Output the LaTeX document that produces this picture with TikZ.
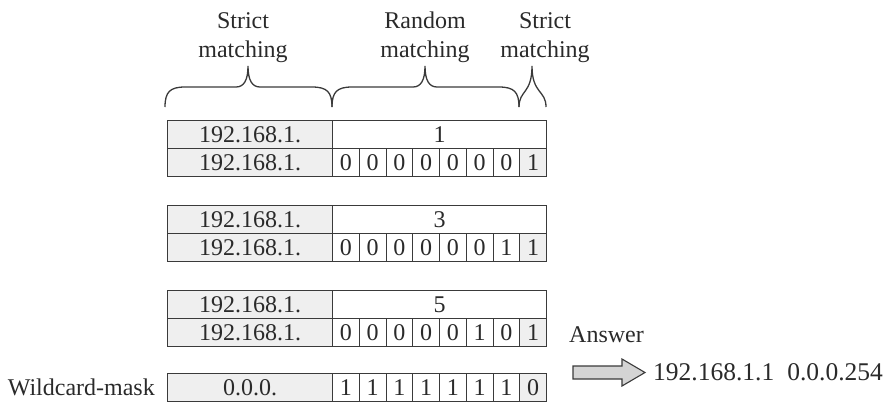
\documentclass[tikz,border=0pt]{standalone}
\usepackage{fontspec}
\setmainfont{Liberation Serif}
\definecolor{lc}{HTML}{3A3A3A}
\definecolor{tc}{HTML}{2A2A2A}
\definecolor{gc}{HTML}{EFEFEF}
\definecolor{ac}{HTML}{D4D4D4}
\begin{document}
\begin{tikzpicture}[x=1pt,y=-1pt,
  txt/.style={text=tc, font=\fontsize{24}{29}\selectfont, inner sep=0pt},
  cell/.style={txt, draw=lc, line width=1.1pt, minimum height=28pt, anchor=north west, fill=white},
  lcell/.style={cell, fill=gc, minimum width=165pt},
  wcell/.style={cell, minimum width=214pt},
  bit/.style={cell, minimum width=26.75pt},
  lastbit/.style={bit, fill=gc},
  bracepath/.style={draw=lc, line width=1.3pt},
]
\useasboundingbox (0,0) rectangle (888,405);

% headers
\node[txt, anchor=base] (h1a) at (243,28) {Strict};
\node[txt, anchor=base] (h1b) at (243,57) {matching};
\node[txt, anchor=base] (h2a) at (425,28) {Random};
\node[txt, anchor=base] (h2b) at (425,57) {matching};
\node[txt, anchor=base] (h3a) at (545,28) {Strict};
\node[txt, anchor=base] (h3b) at (545,57) {matching};

% braces
\draw[bracepath] (165,107) .. controls (165,92) and (170,87) .. (185,87) -- (236,87)
  .. controls (244,87) and (248,80) .. (248,66)
  .. controls (248,80) and (252,87) .. (260,87) -- (312,87)
  .. controls (327,87) and (332,92) .. (332,107);
\draw[bracepath] (332,107) .. controls (332,92) and (337,87) .. (352,87) -- (413,87)
  .. controls (421,87) and (425,80) .. (425,66)
  .. controls (425,80) and (429,87) .. (437,87) -- (499,87)
  .. controls (514,87) and (519,92) .. (519,107);
\draw[bracepath] (519,107) .. controls (519,90) and (532,94) .. (532,66)
  .. controls (532,94) and (546,90) .. (546,107);

\newcommand\myblock[4]{%
  \node[lcell] (#1l1) at (167,#2) {192.168.1.};
  \node[wcell] (#1r1) at (332,#2) {#3};
  \node[lcell] (#1l2) at (167,#2+28) {192.168.1.};
  \foreach \b [count=\k from 0] in {#4} {
    \node[bit] (#1b\k) at (332+\k*26.75,#2+28) {\b};
  }
  \node[lastbit] (#1b7) at (332+7*26.75,#2+28) {1};
}
\myblock{a}{120}{1}{0,0,0,0,0,0,0}
\myblock{b}{205}{3}{0,0,0,0,0,0,1}
\myblock{c}{290}{5}{0,0,0,0,0,1,0}

% wildcard mask
\node[txt, anchor=east] (wl) at (155,387) {Wildcard-mask};
\node[lcell] (wm) at (167,373) {0.0.0.};
\foreach \k in {0,...,6} {
  \node[bit] (wb\k) at (332+\k*26.75,373) {1};
}
\node[lastbit] (wb7) at (332+7*26.75,373) {0};

% answer
\node[txt, anchor=west] (ans) at (569,335) {Answer};
\draw[draw=lc, fill=ac, line width=1.1pt, line join=miter]
  (573,366) -- (622,366) -- (622,359) -- (645,372.5) -- (622,386) -- (622,379) -- (573,379) -- cycle;
\node[txt, anchor=west, font=\fontsize{25.5}{30}\selectfont] (res) at (653,372) {192.168.1.1\hspace{13pt}0.0.0.254};
\end{tikzpicture}
\end{document}
